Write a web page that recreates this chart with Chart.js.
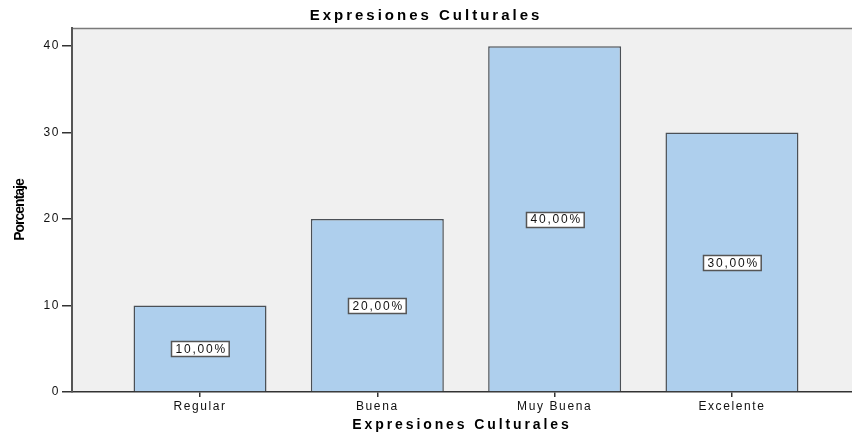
<!DOCTYPE html>
<html>
<head>
<meta charset="utf-8">
<script src="https://cdn.jsdelivr.net/npm/chart.js@4"></script>
<style>
html,body{margin:0;padding:0;background:#fff;overflow:hidden;}
#wrap{width:852px;height:434px;}
</style>
</head>
<body>
<div id="wrap"><canvas id="c" width="852" height="434"></canvas></div>
<script>
const categories = ['Regular', 'Buena', 'Muy Buena', 'Excelente'];
const percentages = [10, 20, 40, 30];
const yTicks = [0, 10, 20, 30, 40];
const chartTitle = 'Expresiones Culturales';
const xTitle = 'Expresiones Culturales';
const yTitle = 'Porcentaje';

const FONT = '"Liberation Sans", Arial, sans-serif';

// SPSS-like wide text rendering: letter spacing per text element
const spacing = {
  id: 'spacing',
  beforeDraw(chart) {
    const ctx = chart.ctx;
    function wrap(obj, name, sp) {
      if (!obj || obj['__w_' + name]) return;
      const orig = obj[name];
      obj[name] = function (...args) {
        const prev = ctx.letterSpacing;
        ctx.letterSpacing = sp;
        try { return orig.apply(this, args); } finally { ctx.letterSpacing = prev; }
      };
      obj['__w_' + name] = true;
    }
    wrap(chart.scales.x, 'drawLabels', '1.6px');
    wrap(chart.scales.y, 'drawLabels', '1.6px');
    wrap(chart.scales.x, 'drawTitle', '2.9px');
    wrap(chart.scales.y, 'drawTitle', '-1px');
    wrap(chart.titleBlock, 'draw', '3px');
  }
};

const plotBg = {
  id: 'plotBg',
  beforeDraw(chart) {
    const {ctx, chartArea: a} = chart;
    ctx.save();
    ctx.fillStyle = '#f0f0f0';
    ctx.fillRect(a.left, a.top, a.right - a.left, a.bottom - a.top);
    ctx.strokeStyle = '#7a7a7a';
    ctx.lineWidth = 1.5;
    ctx.beginPath();
    ctx.moveTo(a.left, a.top + 0.5);
    ctx.lineTo(a.right, a.top + 0.5);
    ctx.stroke();
    ctx.restore();
  }
};

const barLabels = {
  id: 'barLabels',
  afterDatasetsDraw(chart) {
    const {ctx} = chart;
    const meta = chart.getDatasetMeta(0);
    const ys = chart.scales.y;
    ctx.save();
    ctx.font = '12px ' + FONT;
    ctx.letterSpacing = '1.8px';
    ctx.textAlign = 'left';
    ctx.textBaseline = 'middle';
    meta.data.forEach((bar, i) => {
      const v = percentages[i];
      const txt = v.toFixed(2).replace('.', ',') + '%';
      const cy = ys.getPixelForValue(v / 2);
      const tw = ctx.measureText(txt).width - 1.8;
      const w = tw + 8;
      const h = 15;
      const x0 = Math.round(bar.x - w / 2) + 0.5;
      const y0 = Math.round(cy - h / 2) + 0.5;
      ctx.fillStyle = '#ffffff';
      ctx.fillRect(x0, y0, w, h);
      ctx.strokeStyle = '#555555';
      ctx.lineWidth = 1.5;
      ctx.strokeRect(x0, y0, w, h);
      ctx.fillStyle = '#111111';
      ctx.fillText(txt, x0 + 4, cy + 1);
    });
    ctx.restore();
  }
};

new Chart(document.getElementById('c'), {
  type: 'bar',
  data: {
    datasets: [{
      data: percentages.map((v, i) => ({x: i + 1, y: v})),
      backgroundColor: '#aecfed',
      borderColor: '#4b5056',
      borderWidth: 1.5,
      borderSkipped: 'bottom',
      barPercentage: 0.75,
      categoryPercentage: 1
    }]
  },
  options: {
    responsive: false,
    animation: false,
    devicePixelRatio: 1,
    layout: {padding: {left: 0, right: 0, top: 0, bottom: 0}},
    plugins: {
      legend: {display: false},
      tooltip: {enabled: false},
      title: {
        display: true,
        text: chartTitle,
        color: '#000',
        font: {family: FONT, size: 15, weight: 'bold'},
        padding: {top: 7, bottom: 3}
      }
    },
    scales: {
      x: {
        type: 'linear',
        min: 0.278,
        max: 4.677,
        offset: false,
        afterFit(s) { s.height = 42; },
        afterBuildTicks(s) { s.ticks = categories.map((c, i) => ({value: i + 1})); },
        ticks: {
          autoSkip: false,
          maxRotation: 0,
          padding: 2,
          color: '#111',
          font: {family: FONT, size: 12},
          callback: (v) => categories[Math.round(v) - 1]
        },
        grid: {display: true, drawOnChartArea: false, drawTicks: true, tickLength: 5, color: '#333', lineWidth: 1.5, offset: false},
        border: {display: true, color: '#333', width: 1.5},
        title: {
          display: true,
          text: xTitle,
          color: '#000',
          font: {family: FONT, size: 14, weight: 'bold'},
          padding: {top: 0, bottom: 0}
        }
      },
      y: {
        min: 0,
        max: 42.1,
        afterFit(s) { s.width = 72; },
        afterBuildTicks(s) { s.ticks = yTicks.map(v => ({value: v})); },
        ticks: {
          padding: 2,
          color: '#111',
          font: {family: FONT, size: 12}
        },
        grid: {display: true, drawOnChartArea: false, drawTicks: true, tickLength: 10, color: '#333', lineWidth: 1.5},
        border: {display: true, color: '#555', width: 2},
        title: {
          display: true,
          text: yTitle,
          color: '#000',
          font: {family: FONT, size: 14, weight: 'bold'},
          padding: {top: 12, bottom: 0}
        }
      }
    }
  },
  plugins: [spacing, plotBg, barLabels]
});
</script>
</body>
</html>
